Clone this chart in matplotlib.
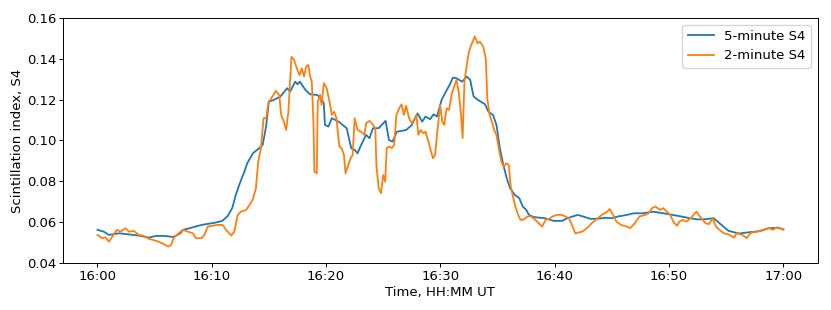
import numpy as np
import pandas as pd
import matplotlib
matplotlib.use('Agg')
import matplotlib.pyplot as plt
import matplotlib.dates as mdates

# minutes after 16:00 UT, S4 values
t5 = [0.0, 0.55, 1.0, 1.9, 2.7, 3.6, 4.5, 5.1, 5.9, 6.65, 7.25, 7.5, 8.2, 9.1, 10.2, 10.9,
      11.4, 11.8, 12.1, 12.4, 12.85, 13.1, 13.6, 14.15, 14.45, 14.75, 14.95, 15.0, 15.4, 16.0,
      16.6, 16.85, 17.3, 17.5, 17.7, 18.2, 18.6, 19.2, 19.6, 19.8, 19.9, 20.2, 20.5, 21.1,
      21.8, 22.2, 22.5, 22.75, 23.0, 23.5, 23.8, 24.1, 24.6, 25.2, 25.5, 25.8, 26.2, 27.0,
      27.5, 28.0, 28.4, 28.7, 29.1, 29.4, 29.7, 30.1, 30.4, 30.8, 31.1, 31.4, 31.9, 32.3,
      32.6, 32.9, 33.3, 33.9, 34.2, 34.6, 34.9, 35.2, 35.5, 35.8, 36.1, 36.5, 36.9, 37.2,
      37.5, 37.75, 38.2, 39.1, 39.9, 40.65, 41.1, 42.0, 42.5, 43.1, 43.7, 44.4, 45.0, 45.5,
      46.3, 46.9, 47.7, 48.6, 49.5, 50.3, 51.1, 51.8, 52.5, 53.2, 53.9, 54.5, 55.2, 56.1,
      57.0, 57.8, 58.7, 59.6, 60.0]
s4_5min = [0.0562, 0.0553, 0.0537, 0.0545, 0.054, 0.0534, 0.0524, 0.0532, 0.0532, 0.0527, 0.0545,
           0.0562, 0.0572, 0.0586, 0.0596, 0.0605, 0.063, 0.067, 0.0733, 0.0782, 0.0847, 0.0888,
           0.0937, 0.0962, 0.0978, 0.1068, 0.117, 0.119, 0.1198, 0.1215, 0.1256, 0.1239, 0.1288,
           0.1275, 0.1288, 0.1247, 0.1226, 0.1223, 0.1206, 0.118, 0.1076, 0.1068, 0.1109, 0.1092,
           0.106, 0.0962, 0.0954, 0.0937, 0.097, 0.1027, 0.1011, 0.106, 0.106, 0.1096, 0.1002,
           0.0994, 0.1043, 0.1051, 0.1076, 0.1133, 0.1092, 0.1117, 0.1104, 0.1128, 0.1117, 0.1198,
           0.1231, 0.1272, 0.1308, 0.1305, 0.1288, 0.1313, 0.1297, 0.1215, 0.1198, 0.1177, 0.1141,
           0.1125, 0.1076, 0.0962, 0.088, 0.0815, 0.0766, 0.0733, 0.0717, 0.0676, 0.066, 0.0635,
           0.0624, 0.0619, 0.0606, 0.0606, 0.0619, 0.0635, 0.0627, 0.0616, 0.0616, 0.0621, 0.0619,
           0.0627, 0.0635, 0.0643, 0.0643, 0.0651, 0.0643, 0.0635, 0.0627, 0.0619, 0.0613, 0.0614,
           0.0619, 0.059, 0.0557, 0.0544, 0.055, 0.0554, 0.057, 0.0572, 0.0564]

t2 = [0.0, 0.4, 0.7, 1.0, 1.3, 1.7, 2.0, 2.45, 2.75, 3.2, 3.6, 4.05, 4.5, 4.9, 5.35, 5.8, 6.2,
      6.45, 6.65, 7.1, 7.5, 7.9, 8.35, 8.6, 9.1, 9.35, 9.65, 10.1, 10.5, 10.95, 11.25, 11.7,
      11.97, 12.27, 12.55, 13.0, 13.3, 13.57, 13.86, 14.06, 14.3, 14.53, 14.75, 14.97, 15.1,
      15.4, 15.6, 15.9, 16.07, 16.3, 16.5, 16.7, 16.85, 16.97, 17.2, 17.44, 17.67, 17.87, 18.07,
      18.25, 18.45, 18.6, 18.75, 18.9, 18.97, 19.18, 19.27, 19.47, 19.6, 19.8, 20.05, 20.3,
      20.5, 20.7, 20.9, 21.16, 21.36, 21.56, 21.7, 21.95, 22.15, 22.32, 22.5, 22.75, 23.05,
      23.35, 23.5, 23.8, 24.1, 24.3, 24.4, 24.6, 24.8, 25.0, 25.17, 25.3, 25.5, 25.75, 25.95,
      26.15, 26.4, 26.6, 26.8, 27.0, 27.26, 27.5, 27.7, 27.9, 28.07, 28.27, 28.5, 28.7, 28.95,
      29.14, 29.35, 29.53, 29.73, 29.98, 30.16, 30.33, 30.54, 30.75, 30.97, 31.2, 31.4, 31.6,
      31.8, 31.94, 32.1, 32.3, 32.5, 32.7, 33.0, 33.25, 33.45, 33.74, 33.97, 34.1, 34.3, 34.5,
      34.7, 34.9, 35.1, 35.33, 35.54, 35.77, 35.98, 36.15, 36.35, 36.55, 36.8, 37.0, 37.24,
      37.6, 37.9, 38.3, 38.6, 38.9, 39.2, 39.5, 39.8, 40.2, 40.65, 40.95, 41.24, 41.5, 41.8,
      42.1, 42.4, 42.8, 43.3, 43.7, 44.1, 44.6, 44.8, 45.1, 45.4, 45.8, 46.3, 46.6, 47.0, 47.4,
      47.9, 48.2, 48.5, 48.8, 49.2, 49.5, 49.8, 50.1, 50.4, 50.7, 50.9, 51.2, 51.5, 51.9, 52.2,
      52.4, 52.7, 53.2, 53.5, 53.8, 54.1, 54.4, 54.8, 55.2, 55.7, 55.9, 56.4, 56.8, 57.1, 57.5,
      58.1, 58.7, 59.1, 59.4, 60.0]
s4_2min = [0.0537, 0.0521, 0.0525, 0.0504, 0.0529, 0.0562, 0.0553, 0.057, 0.0553, 0.0556, 0.0537,
           0.0532, 0.0518, 0.0512, 0.0504, 0.0492, 0.048, 0.0488, 0.0521, 0.0545, 0.0562, 0.0553,
           0.0545, 0.0521, 0.0521, 0.0537, 0.0578, 0.0582, 0.0586, 0.0586, 0.0562, 0.0534, 0.0553,
           0.0635, 0.0651, 0.0659, 0.0684, 0.0708, 0.0766, 0.0896, 0.0962, 0.1109, 0.1109, 0.119,
           0.1198, 0.1223, 0.1243, 0.1223, 0.1125, 0.1092, 0.1051, 0.1141, 0.1288, 0.141, 0.1394,
           0.1353, 0.132, 0.1353, 0.1313, 0.1361, 0.137, 0.1313, 0.1288, 0.1076, 0.0847, 0.0839,
           0.119, 0.1223, 0.1174, 0.128, 0.1256, 0.119, 0.1125, 0.1141, 0.1109, 0.097, 0.0962,
           0.0929, 0.0839, 0.088, 0.0913, 0.0929, 0.1109, 0.1051, 0.1043, 0.1027, 0.1084, 0.1096,
           0.1076, 0.106, 0.088, 0.0766, 0.0741, 0.0831, 0.0798, 0.0962, 0.097, 0.0962, 0.0978,
           0.1125, 0.1158, 0.1177, 0.1125, 0.117, 0.1109, 0.1084, 0.1101, 0.1125, 0.1027, 0.1051,
           0.1035, 0.1043, 0.0994, 0.0953, 0.0913, 0.0929, 0.1043, 0.1174, 0.1092, 0.1076, 0.1158,
           0.115, 0.1223, 0.1264, 0.1296, 0.1239, 0.1125, 0.1011, 0.1288, 0.137, 0.1435, 0.1468,
           0.1509, 0.1476, 0.1484, 0.146, 0.1402, 0.1206, 0.1125, 0.1092, 0.1051, 0.1027, 0.0962,
           0.0896, 0.0872, 0.0888, 0.088, 0.0774, 0.0725, 0.0676, 0.0635, 0.0611, 0.0611, 0.0627,
           0.0629, 0.0611, 0.0594, 0.0578, 0.0611, 0.0616, 0.0627, 0.0635, 0.0635, 0.0627, 0.0619,
           0.0586, 0.0545, 0.0549, 0.0553, 0.057, 0.0598, 0.0616, 0.0635, 0.0651, 0.0664, 0.0635,
           0.0602, 0.0586, 0.0578, 0.057, 0.0594, 0.0627, 0.0635, 0.0643, 0.0668, 0.0676, 0.066,
           0.0668, 0.0651, 0.0635, 0.0599, 0.0582, 0.0602, 0.0611, 0.0602, 0.0619, 0.0639, 0.0651,
           0.0627, 0.0594, 0.059, 0.0619, 0.0578, 0.0562, 0.0545, 0.054, 0.0524, 0.0545, 0.0537,
           0.0521, 0.0545, 0.0553, 0.0557, 0.057, 0.0562, 0.0574, 0.0562]

start = pd.Timestamp('2020-01-01 16:00:00')
time5 = start + pd.to_timedelta(t5, unit='min')
time2 = start + pd.to_timedelta(t2, unit='min')

# the reference looks like a slightly shrunk default figure
plt.rcParams['font.size'] = 9.5
plt.rcParams['xtick.major.size'] = 2.6
plt.rcParams['ytick.major.size'] = 2.6
plt.rcParams['xtick.major.pad'] = 2.4
plt.rcParams['ytick.major.pad'] = 2.4
plt.rcParams['axes.labelpad'] = 2.2
plt.rcParams['axes.linewidth'] = 0.7
plt.rcParams['xtick.major.width'] = 0.7
plt.rcParams['ytick.major.width'] = 0.7

fig, ax = plt.subplots(figsize=(8.31, 3.10), dpi=100)
fig.subplots_adjust(left=0.076, right=0.984, top=0.942, bottom=0.152)

ax.plot(time5, s4_5min, label='5-minute S4', lw=1.3)
ax.plot(time2, s4_2min, label='2-minute S4', lw=1.3)

ax.set_ylim(0.04, 0.16)
ax.set_xlim(start - pd.Timedelta(minutes=3), start + pd.Timedelta(minutes=63))
ax.xaxis.set_major_locator(mdates.MinuteLocator(byminute=range(0, 60, 10)))
ax.xaxis.set_major_formatter(mdates.DateFormatter('%H:%M'))
ax.set_xlabel('Time, HH:MM UT')
ax.set_ylabel('Scintillation index, S4')
ax.legend(loc='upper right')

plt.savefig('out.png', dpi=100)
